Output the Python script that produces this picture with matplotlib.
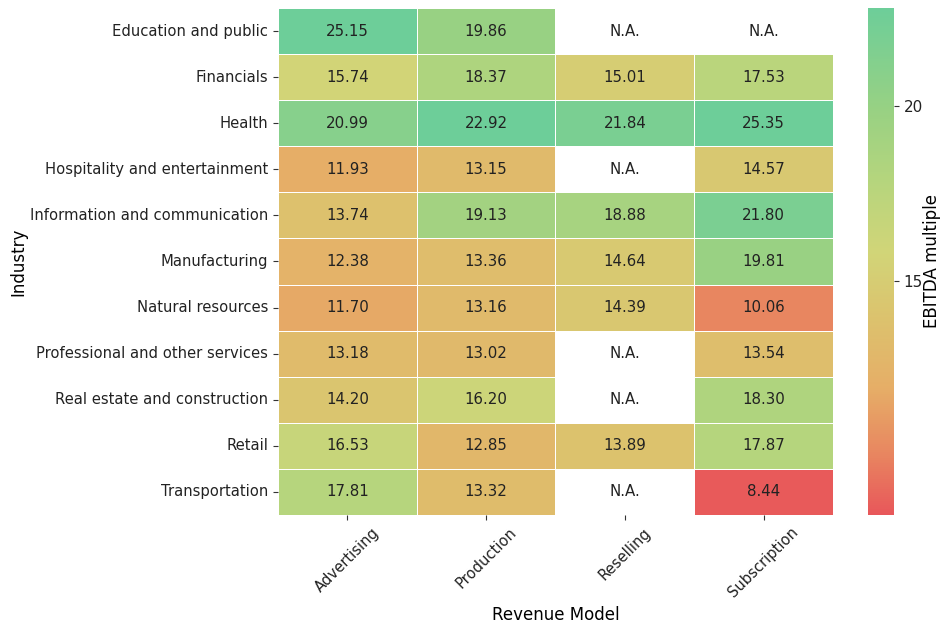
import numpy as np
import pandas as pd
import matplotlib
matplotlib.use("Agg")
import matplotlib.pyplot as plt
from matplotlib.colors import LinearSegmentedColormap, Normalize
import seaborn as sns

industries = [
    "Education and public",
    "Financials",
    "Health",
    "Hospitality and entertainment",
    "Information and communication",
    "Manufacturing",
    "Natural resources",
    "Professional and other services",
    "Real estate and construction",
    "Retail",
    "Transportation",
]
revenue_models = ["Advertising", "Production", "Reselling", "Subscription"]

advertising = [25.15, 15.74, 20.99, 11.93, 13.74, 12.38, 11.70, 13.18, 14.20, 16.53, 17.81]
production = [19.86, 18.37, 22.92, 13.15, 19.13, 13.36, 13.16, 13.02, 16.20, 12.85, 13.32]
reselling = [np.nan, 15.01, 21.84, np.nan, 18.88, 14.64, 14.39, np.nan, np.nan, 13.89, np.nan]
subscription = [np.nan, 17.53, 25.35, 14.57, 21.80, 19.81, 10.06, 13.54, 18.30, 17.87, 8.44]

cbar_ticks = [15, 20]

df = pd.DataFrame(
    {
        "Advertising": advertising,
        "Production": production,
        "Reselling": reselling,
        "Subscription": subscription,
    },
    index=industries,
)[revenue_models]

# red -> orange -> yellow -> green palette
cmap = LinearSegmentedColormap.from_list(
    "ebitda",
    [
        (0.00, "#e8575a"),
        (0.12, "#e88660"),
        (0.25, "#e6ae67"),
        (0.40, "#dbc46e"),
        (0.52, "#d1d578"),
        (0.66, "#b5d57d"),
        (0.80, "#98d183"),
        (1.00, "#6dce99"),
    ],
)
norm = Normalize(vmin=8.3, vmax=22.8)

fig = plt.figure(figsize=(9.44, 6.24), dpi=100)
ax = fig.add_axes([0.2945, 0.1747, 0.5879, 0.8125])
cax = fig.add_axes([0.9195, 0.1747, 0.0275, 0.8125])

sns.heatmap(
    df,
    ax=ax,
    cbar_ax=cax,
    cmap=cmap,
    norm=norm,
    annot=True,
    fmt=".2f",
    annot_kws={"fontsize": 10.8, "color": "#222222"},
    linewidths=0.5,
    linecolor="white",
    mask=df.isna(),
    cbar_kws={"ticks": cbar_ticks},
)

# placeholder text for missing combinations
for i, ind in enumerate(df.index):
    for j, col in enumerate(df.columns):
        if np.isnan(df.loc[ind, col]):
            ax.text(j + 0.5, i + 0.5, "N.A.", ha="center", va="center",
                    fontsize=10.8, color="#222222")

ax.set_xlabel("Revenue Model", fontsize=12)
ax.set_ylabel("Industry", fontsize=12, labelpad=2)
ax.set_xticklabels(revenue_models, rotation=45, fontsize=10.6)
ax.set_yticklabels(industries, rotation=0, fontsize=10.6)
ax.tick_params(colors="#333333", labelcolor="#222222")

cax.tick_params(labelsize=11, colors="#333333", labelcolor="#222222")
cax.set_ylabel("EBITDA multiple", fontsize=12, labelpad=0)

fig.savefig("out.png", dpi=100)
